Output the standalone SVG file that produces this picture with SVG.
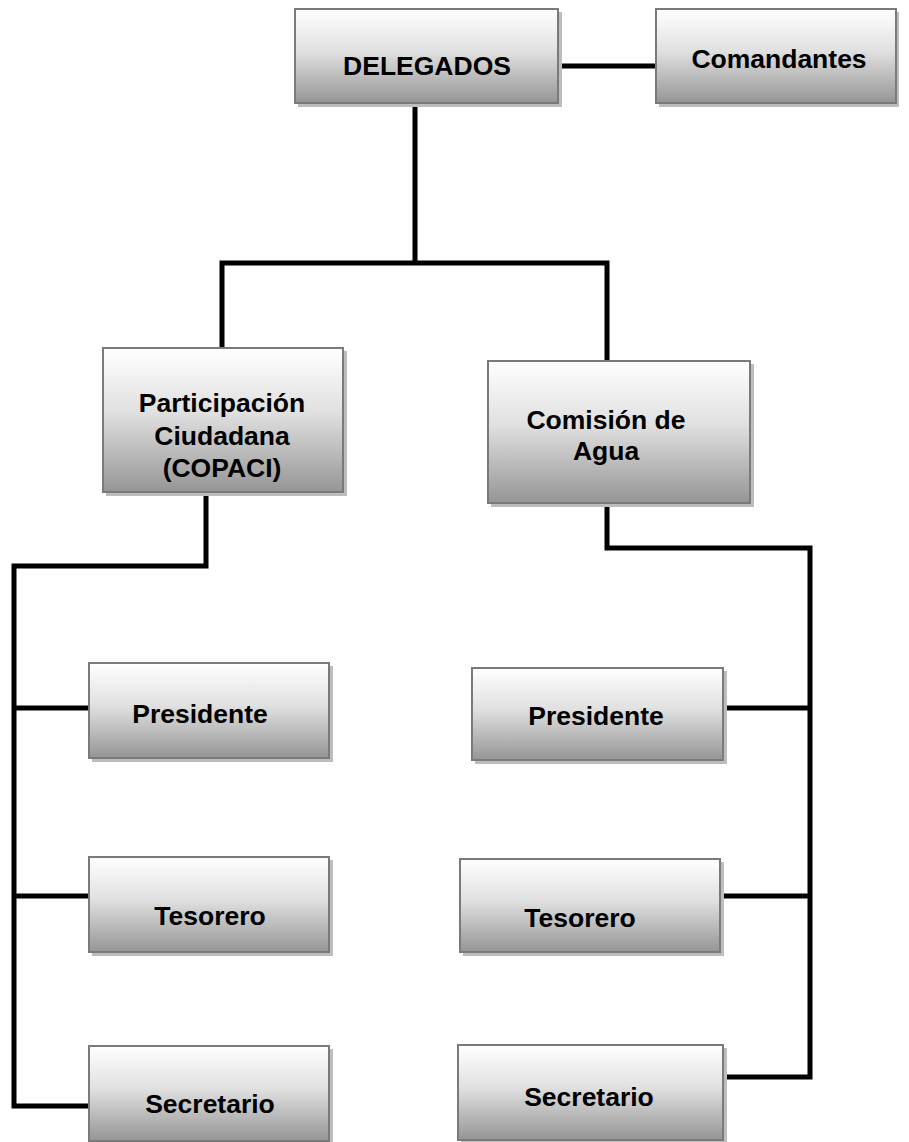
<svg xmlns="http://www.w3.org/2000/svg" width="909" height="1142" viewBox="0 0 909 1142">
<defs>
<linearGradient id="g" x1="0" y1="0" x2="0" y2="1">
<stop offset="0" stop-color="#ffffff"/>
<stop offset="0.45" stop-color="#e0e0e0"/>
<stop offset="1" stop-color="#959595"/>
</linearGradient>
</defs>
<style>
.sh{fill:#bdbdbd}
.bx{fill:url(#g);stroke:#7a7a7a;stroke-width:2}
.t{font-family:"Liberation Sans",Arial,sans-serif;font-weight:bold;font-size:26.5px;fill:#000;text-anchor:middle}
.c{fill:none;stroke:#000;stroke-width:5;stroke-linejoin:miter;stroke-linecap:square}
</style>
<g id="connectors">
<path class="c" d="M558,66 H655"/>
<path class="c" d="M415,104 V263 M222,347 V263 H607 V360"/>
<path class="c" d="M206,493 V566 H14 V1106 H88 M14,708 H88 M14,896 H88"/>
<path class="c" d="M607,504 V548 H810 V1077 H723 M723,708 H810 M720,896 H810"/>
</g>
<g id="delegados">
<rect class="sh" x="298" y="12" width="264" height="95"/>
<rect class="bx" x="295" y="9" width="263" height="94"/>
<text class="t" x="427" y="75">DELEGADOS</text>
</g>
<g id="comandantes">
<rect class="sh" x="659" y="12" width="240" height="95"/>
<rect class="bx" x="656" y="9" width="240" height="94"/>
<text class="t" x="779" y="68">Comandantes</text>
</g>
<g id="copaci">
<rect class="sh" x="106" y="351" width="241" height="145"/>
<rect class="bx" x="103" y="348" width="240" height="144"/>
<text class="t" x="222" y="412">Participación</text>
<text class="t" x="222" y="445">Ciudadana</text>
<text class="t" x="222" y="477">(COPACI)</text>
</g>
<g id="comision">
<rect class="sh" x="491" y="364" width="263" height="143"/>
<rect class="bx" x="488" y="361" width="262" height="142"/>
<text class="t" x="606" y="429">Comisión de</text>
<text class="t" x="606" y="460">Agua</text>
</g>
<g id="presidente1">
<rect class="sh" x="92" y="666" width="241" height="96"/>
<rect class="bx" x="89" y="663" width="240" height="95"/>
<text class="t" x="200" y="723">Presidente</text>
</g>
<g id="tesorero1">
<rect class="sh" x="92" y="860" width="241" height="96"/>
<rect class="bx" x="89" y="857" width="240" height="95"/>
<text class="t" x="210" y="925">Tesorero</text>
</g>
<g id="secretario1">
<rect class="sh" x="92" y="1049" width="241" height="96"/>
<rect class="bx" x="89" y="1046" width="240" height="95"/>
<text class="t" x="210" y="1113">Secretario</text>
</g>
<g id="presidente2">
<rect class="sh" x="475" y="671" width="252" height="93"/>
<rect class="bx" x="472" y="668" width="251" height="92"/>
<text class="t" x="596" y="725">Presidente</text>
</g>
<g id="tesorero2">
<rect class="sh" x="463" y="862" width="261" height="94"/>
<rect class="bx" x="460" y="859" width="260" height="93"/>
<text class="t" x="580" y="927">Tesorero</text>
</g>
<g id="secretario2">
<rect class="sh" x="461" y="1048" width="266" height="96"/>
<rect class="bx" x="458" y="1045" width="265" height="95"/>
<text class="t" x="589" y="1106">Secretario</text>
</g>
</svg>
